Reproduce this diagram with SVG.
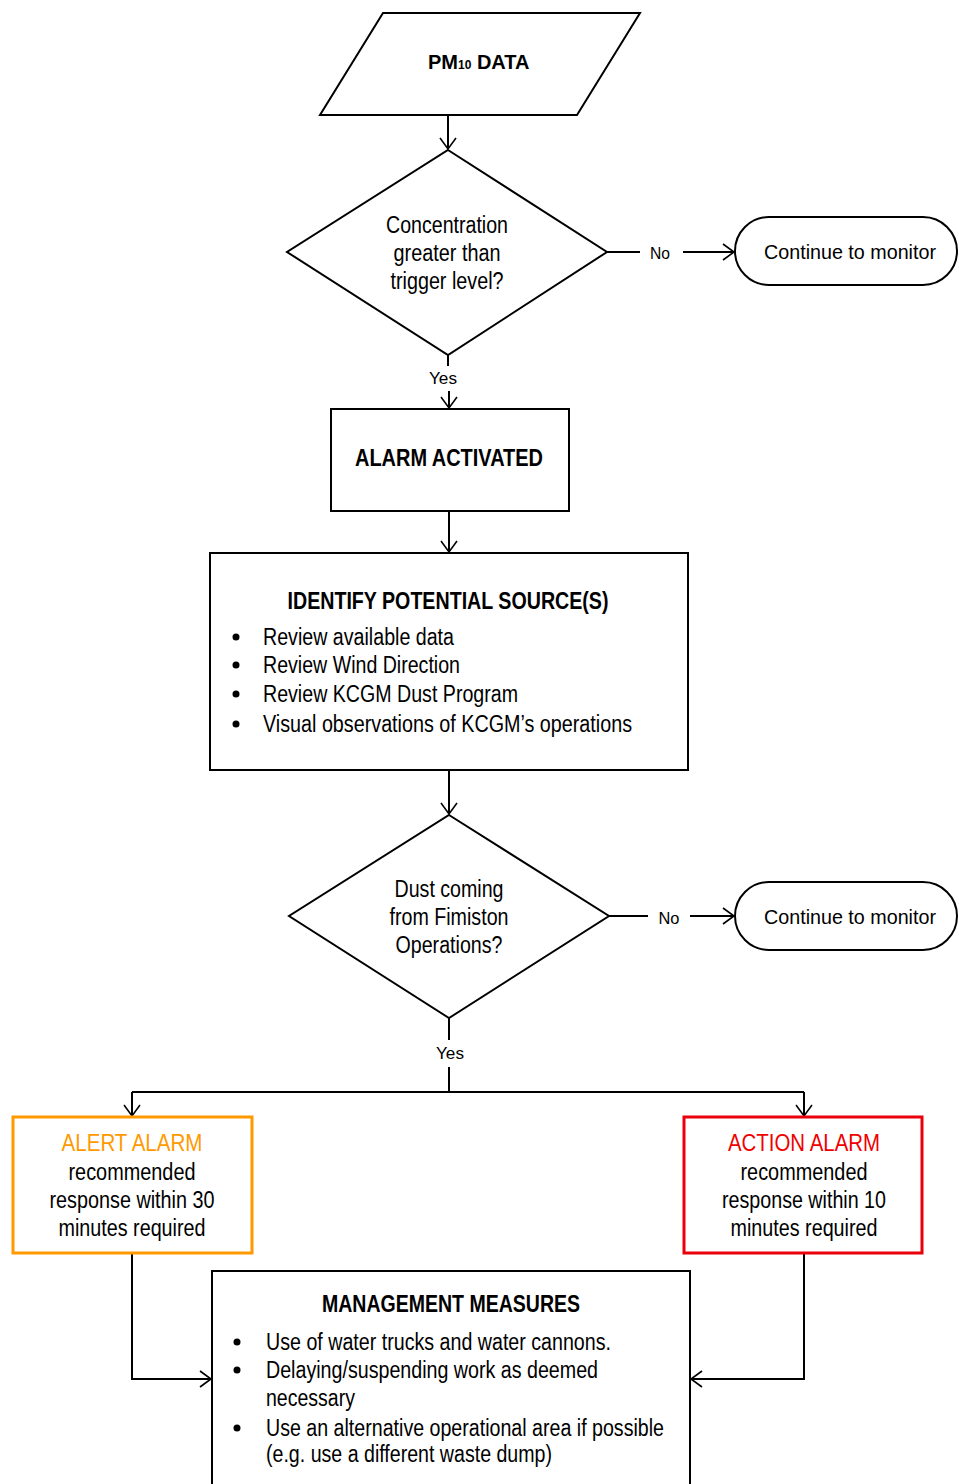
<svg xmlns="http://www.w3.org/2000/svg" width="959" height="1484" viewBox="0 0 959 1484">
<style>
.shape{fill:#fff;stroke:#000;stroke-width:2}
.t{font-family:"Liberation Sans Narrow","Liberation Sans",Arial,sans-serif;font-size:23px;fill:#000}
.b{font-weight:bold}
.s{font-family:"Liberation Sans Narrow","Liberation Sans",Arial,sans-serif;font-size:17px;fill:#000}
.c{text-anchor:middle}
.ln{fill:none;stroke:#000;stroke-width:2}
</style>
<defs>
<marker id="arr" markerUnits="userSpaceOnUse" markerWidth="14" markerHeight="18" viewBox="0 0 14 18" refX="12" refY="9" orient="auto">
<path d="M1,1 L12,9 L1,17" fill="none" stroke="#000" stroke-width="1.6"/>
</marker>
</defs>
<g id="connectors">
<line class="ln" x1="448" y1="115" x2="448" y2="149" marker-end="url(#arr)"/>
<line class="ln" x1="607" y1="252" x2="640" y2="252"/>
<line class="ln" x1="683" y1="252" x2="734" y2="252" marker-end="url(#arr)"/>
<line class="ln" x1="448" y1="355" x2="448" y2="366"/>
<line class="ln" x1="449" y1="391" x2="449" y2="408" marker-end="url(#arr)"/>
<line class="ln" x1="449" y1="511" x2="449" y2="552" marker-end="url(#arr)"/>
<line class="ln" x1="449" y1="770" x2="449" y2="814" marker-end="url(#arr)"/>
<line class="ln" x1="609" y1="916" x2="648" y2="916"/>
<line class="ln" x1="690" y1="916" x2="734" y2="916" marker-end="url(#arr)"/>
<line class="ln" x1="449" y1="1018" x2="449" y2="1040"/>
<polyline class="ln" points="449,1067 449,1092"/>
<line class="ln" x1="132" y1="1092" x2="804" y2="1092"/>
<line class="ln" x1="132" y1="1092" x2="132" y2="1116" marker-end="url(#arr)"/>
<line class="ln" x1="804" y1="1092" x2="804" y2="1116" marker-end="url(#arr)"/>
<polyline class="ln" points="132,1254 132,1379 211,1379" marker-end="url(#arr)"/>
<polyline class="ln" points="804,1254 804,1379 691,1379" marker-end="url(#arr)"/>
<text class="s" x="660" y="259" text-anchor="middle" textLength="20" lengthAdjust="spacingAndGlyphs">No</text>
<text class="s" x="443" y="384" text-anchor="middle" textLength="28" lengthAdjust="spacingAndGlyphs">Yes</text>
<text class="s" x="669" y="924" text-anchor="middle" textLength="21" lengthAdjust="spacingAndGlyphs">No</text>
<text class="s" x="450" y="1059" text-anchor="middle" textLength="28" lengthAdjust="spacingAndGlyphs">Yes</text>
</g>
<g id="pm10-data">
<polygon class="shape" points="383,13 640,13 577,115 320,115"/>
<text class="t b" x="428" y="69" style="font-size:20px">PM<tspan style="font-size:12px">10</tspan> DATA</text>
</g>
<g id="decision1">
<polygon class="shape" points="448,150 607,252 448,355 287,252"/>
<text class="t c" x="447" y="233" textLength="122" lengthAdjust="spacingAndGlyphs">Concentration</text>
<text class="t c" x="447" y="261" textLength="107" lengthAdjust="spacingAndGlyphs">greater than</text>
<text class="t c" x="447" y="289" textLength="113" lengthAdjust="spacingAndGlyphs">trigger level?</text>
</g>
<g id="monitor1">
<rect class="shape" x="735" y="217" width="222" height="68" rx="34" ry="34"/>
<text class="t c" x="850" y="259" style="font-size:21px" textLength="172" lengthAdjust="spacingAndGlyphs">Continue to monitor</text>
</g>
<g id="alarm-activated">
<rect class="shape" x="331" y="409" width="238" height="102"/>
<text class="t b c" x="449" y="466" textLength="188" lengthAdjust="spacingAndGlyphs">ALARM ACTIVATED</text>
</g>
<g id="identify">
<rect class="shape" x="210" y="553" width="478" height="217"/>
<text class="t b c" x="448" y="609" textLength="321" lengthAdjust="spacingAndGlyphs">IDENTIFY POTENTIAL SOURCE(S)</text>
<circle cx="236" cy="637" r="3.5"/><circle cx="236" cy="665" r="3.5"/><circle cx="236" cy="694" r="3.5"/><circle cx="236" cy="724" r="3.5"/>
<text class="t" x="263" y="645" textLength="191" lengthAdjust="spacingAndGlyphs">Review available data</text>
<text class="t" x="263" y="673" textLength="197" lengthAdjust="spacingAndGlyphs">Review Wind Direction</text>
<text class="t" x="263" y="702" textLength="255" lengthAdjust="spacingAndGlyphs">Review KCGM Dust Program</text>
<text class="t" x="263" y="732" textLength="369" lengthAdjust="spacingAndGlyphs">Visual observations of KCGM’s operations</text>
</g>
<g id="decision2">
<polygon class="shape" points="449,815 609,916 449,1018 289,916"/>
<text class="t c" x="449" y="897" textLength="109" lengthAdjust="spacingAndGlyphs">Dust coming</text>
<text class="t c" x="449" y="925" textLength="119" lengthAdjust="spacingAndGlyphs">from Fimiston</text>
<text class="t c" x="449" y="953" textLength="107" lengthAdjust="spacingAndGlyphs">Operations?</text>
</g>
<g id="monitor2">
<rect class="shape" x="735" y="882" width="222" height="68" rx="34" ry="34"/>
<text class="t c" x="850" y="924" style="font-size:21px" textLength="172" lengthAdjust="spacingAndGlyphs">Continue to monitor</text>
</g>
<g id="alert-alarm">
<rect x="13" y="1117" width="239" height="136" fill="#fff" stroke="#FF9900" stroke-width="3"/>
<text class="t c" x="132" y="1151" style="fill:#FF9900" textLength="141" lengthAdjust="spacingAndGlyphs">ALERT ALARM</text>
<text class="t c" x="132" y="1180" textLength="127" lengthAdjust="spacingAndGlyphs">recommended</text>
<text class="t c" x="132" y="1208" textLength="165" lengthAdjust="spacingAndGlyphs">response within 30</text>
<text class="t c" x="132" y="1236" textLength="147" lengthAdjust="spacingAndGlyphs">minutes required</text>
</g>
<g id="action-alarm">
<rect x="684" y="1117" width="238" height="136" fill="#fff" stroke="#E8000B" stroke-width="3"/>
<text class="t c" x="804" y="1151" style="fill:#F00000" textLength="152" lengthAdjust="spacingAndGlyphs">ACTION ALARM</text>
<text class="t c" x="804" y="1180" textLength="127" lengthAdjust="spacingAndGlyphs">recommended</text>
<text class="t c" x="804" y="1208" textLength="164" lengthAdjust="spacingAndGlyphs">response within 10</text>
<text class="t c" x="804" y="1236" textLength="147" lengthAdjust="spacingAndGlyphs">minutes required</text>
</g>
<g id="management">
<rect class="shape" x="212" y="1271" width="478" height="230"/>
<text class="t b c" x="451" y="1312" textLength="258" lengthAdjust="spacingAndGlyphs">MANAGEMENT MEASURES</text>
<circle cx="237" cy="1342" r="3.5"/><circle cx="237" cy="1370" r="3.5"/><circle cx="237" cy="1428" r="3.5"/>
<text class="t" x="266" y="1350" textLength="345" lengthAdjust="spacingAndGlyphs">Use of water trucks and water cannons.</text>
<text class="t" x="266" y="1378" textLength="332" lengthAdjust="spacingAndGlyphs">Delaying/suspending work as deemed</text>
<text class="t" x="266" y="1406" textLength="89" lengthAdjust="spacingAndGlyphs">necessary</text>
<text class="t" x="266" y="1436" textLength="398" lengthAdjust="spacingAndGlyphs">Use an alternative operational area if possible</text>
<text class="t" x="266" y="1462" textLength="286" lengthAdjust="spacingAndGlyphs">(e.g. use a different waste dump)</text>
</g>
</svg>
